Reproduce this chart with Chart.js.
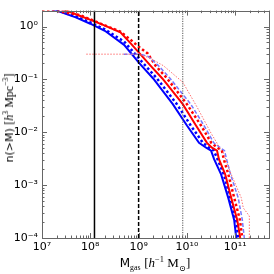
<!DOCTYPE html>
<html>
<head>
<meta charset="utf-8">
<script src="https://cdn.jsdelivr.net/npm/chart.js@4/dist/chart.umd.min.js"></script>
<style>
    html, body { margin: 0; padding: 0; background: #fff; }
    #wrap { position: relative; width: 274px; height: 274px; overflow: hidden; }
    #grafico { position: absolute; left: 0; top: 0; }
    .titulo { position: absolute; white-space: nowrap; font-family: 'DejaVu Sans'; font-size: 12px; color: #000; line-height: 1; }
    .titulo sub, .titulo sup { font-size: 65%; line-height: 0; }
    .serif { font-family: 'Liberation Serif', 'DejaVu Serif'; font-size: 13px; }
    #tituloX { left: 155px; top: 256px; transform: translateX(-50%); }
    #tituloY { left: 9px; top: 118px; transform: translate(-50%, -50%) rotate(-90deg); font-size: 11px; }
    #tituloY .serif { font-size: 12px; }
</style>
</head>
<body>
<div id="wrap">
    <canvas id="grafico" width="274" height="274"></canvas>
    <div id="tituloX" class="titulo">M<sub class="serif">gas</sub> <span class="serif">[<i>h</i><sup>−1</sup> M<sub>⊙</sub>]</span></div>
    <div id="tituloY" class="titulo">n(&gt;M) <span class="serif">[<i>h</i><sup>3</sup> Mpc<sup>−3</sup>]</span></div>
</div>
<script>
// eixos
const ticksX = [1e7, 1e8, 1e9, 1e10, 1e11];
const rotulosX = ['10⁷', '10⁸', '10⁹', '10¹⁰', '10¹¹'];
const ticksY = [1e-4, 1e-3, 1e-2, 1e-1, 1];
const rotulosY = ['10⁻⁴', '10⁻³', '10⁻²', '10⁻¹', '10⁰'];

// linhas verticais (resolucao)
const linhasVerticais = [1.22e8, 1e9, 8.2e9];

// azul cheia
const mAzulCheia = [1e7, 2e7, 5e7, 1e8, 2e8, 5e8, 1e9, 1.16e9, 2e9, 5.1e9, 1e10, 1.78e10, 2.5e10, 3.16e10, 3.65e10, 5.1e10, 7.15e10, 9.5e10, 1.05e11];
const nAzulCheia = [2.4, 2.0, 1.49, 1.13, 0.83, 0.45, 0.21, 0.18, 0.104, 0.034, 0.0134, 0.0063, 0.0051, 0.0045, 0.0031, 0.0016, 5.8e-4, 2.2e-4, 1.0e-4];

// azul pontilhada
const mAzulPont = [1e7, 2e7, 5e7, 1e8, 2e8, 5e8, 1.2e9, 1.4e9, 2.4e9, 6.2e9, 1.2e10, 2.15e10, 2.9e10, 3.6e10, 4.3e10, 5.8e10, 7.9e10, 1.05e11, 1.15e11];
const nAzulPont = [2.45, 2.05, 1.55, 1.2, 0.88, 0.52, 0.21, 0.18, 0.104, 0.034, 0.0134, 0.0063, 0.0051, 0.0045, 0.0031, 0.0016, 5.8e-4, 2.2e-4, 1.0e-4];

// vermelha cheia
const mVermCheia = [1e7, 3e7, 6e7, 1.15e8, 2e8, 4.2e8, 7e8, 1.78e9, 3.1e9, 8.2e9, 1.54e10, 2.6e10, 3.3e10, 4.2e10, 4.6e10, 6.2e10, 8.25e10, 1.1e11, 1.27e11];
const nVermCheia = [2.6, 2.05, 1.6, 1.28, 1.04, 0.78, 0.47, 0.18, 0.104, 0.034, 0.0134, 0.0063, 0.0051, 0.0045, 0.0031, 0.0016, 5.8e-4, 2.2e-4, 1.0e-4];

// vermelha pontilhada
const mVermPont = [1e7, 2e7, 6e7, 1.15e8, 2e8, 4.2e8, 7e8, 1e9, 1.54e9, 2.26e9, 3.9e9, 1e10, 1.96e10, 3.2e10, 4.3e10, 5.3e10, 5.8e10, 7.2e10, 9.5e10, 1.25e11, 1.4e11];
const nVermPont = [2.0, 1.98, 1.65, 1.3, 1.05, 0.8, 0.55, 0.415, 0.31, 0.18, 0.104, 0.034, 0.0134, 0.0063, 0.0051, 0.0045, 0.0031, 0.0016, 5.8e-4, 2.2e-4, 1.0e-4];

// azul clara
const mAzulClara = [4.9e8, 1.1e9, 1.6e9, 2.6e9, 4.5e9, 1.2e10, 2.26e10, 3.6e10, 4.9e10, 6e10, 6.6e10, 8e10, 1.15e11, 1.4e11, 1.54e11];
const nAzulClara = [0.3, 0.3, 0.27, 0.18, 0.104, 0.034, 0.0134, 0.0063, 0.0051, 0.0045, 0.0031, 0.0016, 5.8e-4, 2.2e-4, 1.0e-4];

// vermelha clara
const mVermClara = [8.25e7, 1e9, 1.78e9, 3.3e9, 8.25e9, 1.62e10, 3.16e10, 5.9e10, 8.25e10, 1.33e11, 1.47e11, 1.96e11, 1.96e11];
const nVermClara = [0.3, 0.3, 0.25, 0.18, 0.088, 0.03, 0.0096, 0.0037, 0.0016, 5.8e-4, 3.7e-4, 2.6e-4, 1e-4];

const xMin = 1e7, xMax = 5e11, yMin = 1e-4, yMax = 2;

function pontos(m, n) {
    return m.map((x, i) => ({ x: x, y: n[i] }));
}

function curva(m, n, cor, largura, traco) {
    return {
        data: pontos(m, n),
        borderColor: cor,
        borderWidth: largura,
        borderDash: traco,
        borderCapStyle: 'butt',
        fill: false,
        tension: 0,
        pointRadius: 0
    };
}

function vertical(x, traco, largura, cor) {
    return curva([x, x], [yMin, yMax], cor, largura, traco);
}

// ticks para dentro em todos os lados + moldura
const ticksInternos = {
    id: 'ticksInternos',
    afterDatasetsDraw(chart) {
        const { ctx, chartArea: a, scales: { x, y } } = chart;
        ctx.save();
        ctx.strokeStyle = '#666';
        ctx.lineWidth = 1;
        function seg(x1, y1, x2, y2) {
            ctx.beginPath();
            ctx.moveTo(x1, y1);
            ctx.lineTo(x2, y2);
            ctx.stroke();
        }
        for (let e = 7; e <= 11; e++) {
            for (let k = 1; k <= 9; k++) {
                const v = k * Math.pow(10, e);
                if (v < xMin || v > xMax) continue;
                const px = Math.round(x.getPixelForValue(v)) + 0.5;
                const len = k === 1 ? 5 : 2.5;
                seg(px, a.bottom, px, a.bottom - len);
                seg(px, a.top, px, a.top + len);
            }
        }
        for (let e = -4; e <= 0; e++) {
            for (let k = 1; k <= 9; k++) {
                const v = k * Math.pow(10, e);
                if (v < yMin || v > yMax) continue;
                const py = Math.round(y.getPixelForValue(v)) + 0.5;
                const len = k === 1 ? 5 : 2.5;
                seg(a.left, py, a.left + len, py);
                seg(a.right, py, a.right - len, py);
            }
        }
        ctx.strokeRect(Math.round(a.left) + 0.5, Math.round(a.top) + 0.5,
            Math.round(a.right - a.left), Math.round(a.bottom - a.top));
        ctx.restore();
    }
};

function main() {
    Chart.defaults.font.family = 'DejaVu Sans';
    const ctx = document.getElementById('grafico').getContext('2d');
    new Chart(ctx, {
        type: 'line',
        data: {
            datasets: [
                vertical(linhasVerticais[0], [], 1.5, '#000'),
                vertical(linhasVerticais[1], [4, 2], 1.5, '#000'),
                vertical(linhasVerticais[2], [1.2, 1.2], 1, '#555'),
                curva(mVermClara, nVermClara, '#ff7070', 1, [1.5, 1.5]),
                curva(mAzulClara, nAzulClara, '#7777ff', 1.5, [4, 2]),
                curva(mVermPont, nVermPont, '#ff0000', 2.5, [2.5, 2.5]),
                curva(mVermCheia, nVermCheia, '#ff0000', 2, []),
                curva(mAzulPont, nAzulPont, '#0000ff', 2.5, [2.5, 2.5]),
                curva(mAzulCheia, nAzulCheia, '#0000ff', 2, [])
            ]
        },
        options: {
            animation: false,
            responsive: false,
            layout: { padding: { top: 3, right: 5, bottom: 0, left: 0 } },
            plugins: { legend: { display: false }, tooltip: { enabled: false } },
            scales: {
                x: {
                    type: 'logarithmic',
                    min: xMin,
                    max: xMax,
                    afterBuildTicks: (s) => { s.ticks = ticksX.map(v => ({ value: v })); },
                    afterFit: (s) => { s.height = 36; },
                    ticks: {
                        color: '#000',
                        font: { size: 11 },
                        padding: 3,
                        maxRotation: 0,
                        autoSkip: false,
                        callback: (v) => rotulosX[ticksX.indexOf(v)]
                    },
                    grid: { display: false, drawTicks: false },
                    border: { display: false }
                },
                y: {
                    type: 'logarithmic',
                    min: yMin,
                    max: yMax,
                    afterBuildTicks: (s) => { s.ticks = ticksY.map(v => ({ value: v })); },
                    afterFit: (s) => { s.width = 42; },
                    ticks: {
                        color: '#000',
                        font: { size: 11 },
                        padding: 4,
                        autoSkip: false,
                        callback: (v) => rotulosY[ticksY.indexOf(v)]
                    },
                    grid: { display: false, drawTicks: false },
                    border: { display: false }
                }
            }
        },
        plugins: [ticksInternos]
    });
}

window.addEventListener('DOMContentLoaded', main);
</script>
</body>
</html>
